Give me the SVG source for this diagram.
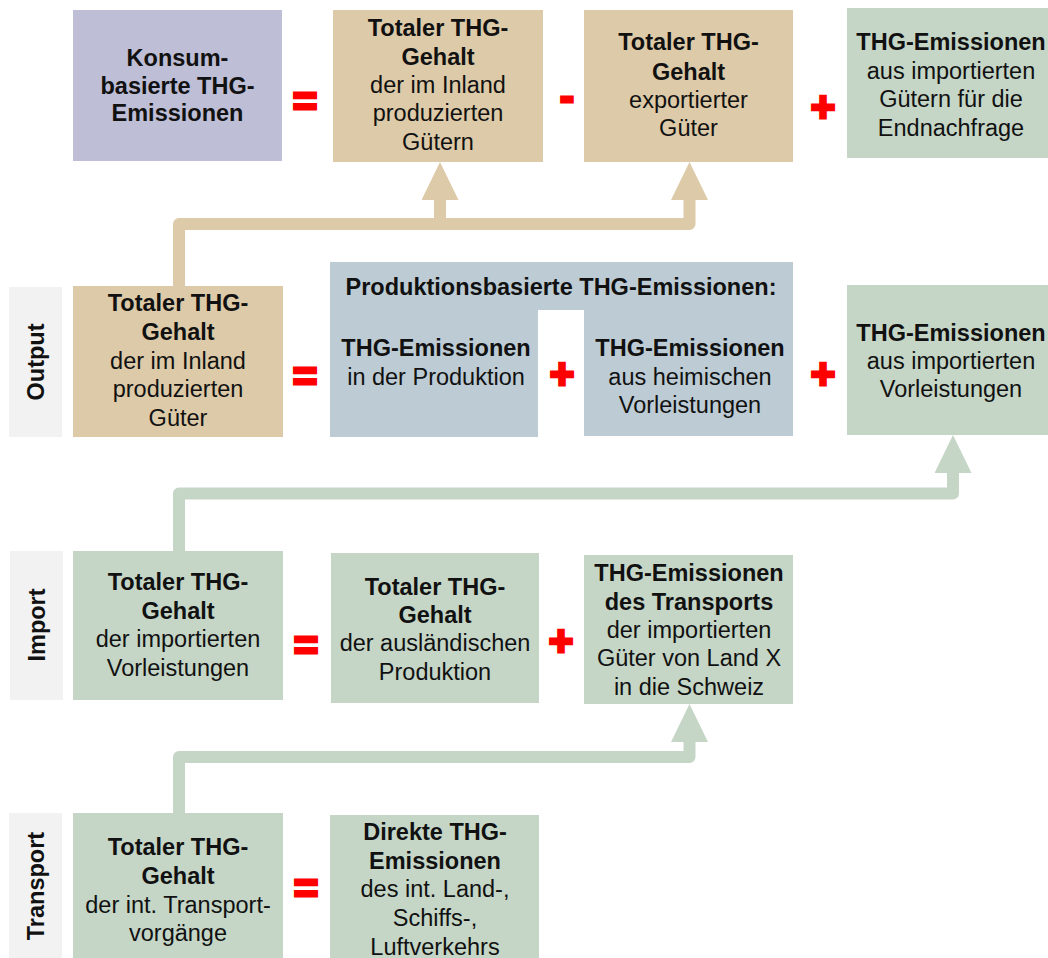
<svg xmlns="http://www.w3.org/2000/svg" width="1048" height="958" viewBox="0 0 1048 958">
<style>
text{font-family:"Liberation Sans",Arial,sans-serif;font-size:23.5px;fill:#111;text-anchor:middle}
.b{font-weight:bold}
.op{font-weight:bold;font-size:42px;fill:#ff0000;stroke:#ff0000;stroke-width:3}
.lav{fill:#bebed6}
.tan{fill:#ddcaa8}
.grn{fill:#c5d6c7}
.blu{fill:#bdccd4}
.lbl{fill:#f2f2f2}
.ctan{fill:none;stroke:#ddcaa8;stroke-width:12;stroke-linejoin:round}
.cgrn{fill:none;stroke:#c5d6c7;stroke-width:12;stroke-linejoin:round}
</style>
<defs>
<marker id="aTan" viewBox="0 0 38 37" markerWidth="38" markerHeight="37" refX="0" refY="18.5" orient="auto" markerUnits="userSpaceOnUse"><path d="M0,0 L38,18.5 L0,37 Z" fill="#ddcaa8"/></marker>
<marker id="aGrn" viewBox="0 0 38 37" markerWidth="38" markerHeight="37" refX="0" refY="18.5" orient="auto" markerUnits="userSpaceOnUse"><path d="M0,0 L38,18.5 L0,37 Z" fill="#c5d6c7"/></marker>
</defs>
<rect width="1048" height="958" fill="#ffffff"/>
<g id="connectors">
<path class="ctan" d="M179,287 V224 H689.5 V200" marker-end="url(#aTan)"/>
<path class="ctan" d="M440,224 V200" marker-end="url(#aTan)"/>
<path class="cgrn" d="M179,552 V493.5 H953 V473" marker-end="url(#aGrn)"/>
<path class="cgrn" d="M179,814 V757 H689.5 V742" marker-end="url(#aGrn)"/>
</g>
<g id="konsum"><rect class="lav" x="73" y="10" width="209" height="151"/>
<text class="b" x="177.5" y="66">Konsum-</text><text class="b" x="177.5" y="94">basierte THG-</text><text class="b" x="177.5" y="121">Emissionen</text></g>
<text class="op" x="305" y="116">=</text>
<g id="inland"><rect class="tan" x="333" y="10" width="210" height="152"/>
<text class="b" x="438" y="36">Totaler THG-</text><text class="b" x="438" y="65">Gehalt</text><text x="438" y="93">der im Inland</text><text x="438" y="121">produzierten</text><text x="438" y="150">Gütern</text></g>
<text class="op" x="567" y="111">-</text>
<g id="export"><rect class="tan" x="584" y="10" width="209" height="152"/>
<text class="b" x="688.5" y="50">Totaler THG-</text><text class="b" x="688.5" y="80">Gehalt</text><text x="688.5" y="108">exportierter</text><text x="688.5" y="136">Güter</text></g>
<text class="op" x="823" y="121">+</text>
<g id="importEnd"><rect class="grn" x="847" y="8" width="209" height="150"/>
<text class="b" x="951" y="50">THG-Emissionen</text><text x="951" y="79">aus importierten</text><text x="951" y="107">Gütern für die</text><text x="951" y="136">Endnachfrage</text></g>

<g id="lblOutput"><rect class="lbl" x="9" y="287" width="53" height="150"/><text class="b" transform="translate(44,362) rotate(-90)">Output</text></g>
<g id="output"><rect class="tan" x="73" y="286" width="210" height="151"/>
<text class="b" x="178" y="311">Totaler THG-</text><text class="b" x="178" y="340">Gehalt</text><text x="178" y="369">der im Inland</text><text x="178" y="397">produzierten</text><text x="178" y="426">Güter</text></g>
<text class="op" x="305" y="391">=</text>
<g id="produktion"><path class="blu" d="M330,262 H793 V436 H584 V310 H538 V437 H330 Z"/>
<text class="b" x="561" y="295">Produktionsbasierte THG-Emissionen:</text>
<text class="b" x="436" y="356">THG-Emissionen</text><text x="436" y="385">in der Produktion</text>
<text class="b" x="690" y="356">THG-Emissionen</text><text x="690" y="385">aus heimischen</text><text x="690" y="413">Vorleistungen</text></g>
<text class="op" x="562" y="388">+</text>
<text class="op" x="823" y="388">+</text>
<g id="importVor"><rect class="grn" x="847" y="285" width="209" height="150"/>
<text class="b" x="951" y="341">THG-Emissionen</text><text x="951" y="369">aus importierten</text><text x="951" y="397">Vorleistungen</text></g>

<g id="lblImport"><rect class="lbl" x="10" y="551" width="53" height="149"/><text class="b" transform="translate(45,625) rotate(-90)">Import</text></g>
<g id="import"><rect class="grn" x="73" y="551" width="210" height="149"/>
<text class="b" x="178" y="590">Totaler THG-</text><text class="b" x="178" y="619">Gehalt</text><text x="178" y="647">der importierten</text><text x="178" y="676">Vorleistungen</text></g>
<text class="op" x="306" y="660">=</text>
<g id="ausland"><rect class="grn" x="331" y="553" width="208" height="150"/>
<text class="b" x="435" y="595">Totaler THG-</text><text class="b" x="435" y="623">Gehalt</text><text x="435" y="651">der ausländischen</text><text x="435" y="680">Produktion</text></g>
<text class="op" x="561" y="655">+</text>
<g id="transportEm"><rect class="grn" x="584" y="555" width="209" height="149"/>
<text class="b" x="689" y="581">THG-Emissionen</text><text class="b" x="689" y="610">des Transports</text><text x="689" y="638">der importierten</text><text x="689" y="666">Güter von Land X</text><text x="689" y="695">in die Schweiz</text></g>

<g id="lblTransport"><rect class="lbl" x="9" y="813" width="53" height="150"/><text class="b" transform="translate(44,886) rotate(-90)">Transport</text></g>
<g id="transport"><rect class="grn" x="73" y="813" width="210" height="150"/>
<text class="b" x="178" y="855">Totaler THG-</text><text class="b" x="178" y="884">Gehalt</text><text x="178" y="913">der int. Transport-</text><text x="178" y="941">vorgänge</text></g>
<text class="op" x="306" y="903">=</text>
<g id="direkt"><rect class="grn" x="330" y="815" width="209" height="150"/>
<text class="b" x="435" y="840">Direkte THG-</text><text class="b" x="435" y="869">Emissionen</text><text x="435" y="897">des int. Land-,</text><text x="435" y="926">Schiffs-,</text><text x="435" y="955">Luftverkehrs</text></g>
</svg>
